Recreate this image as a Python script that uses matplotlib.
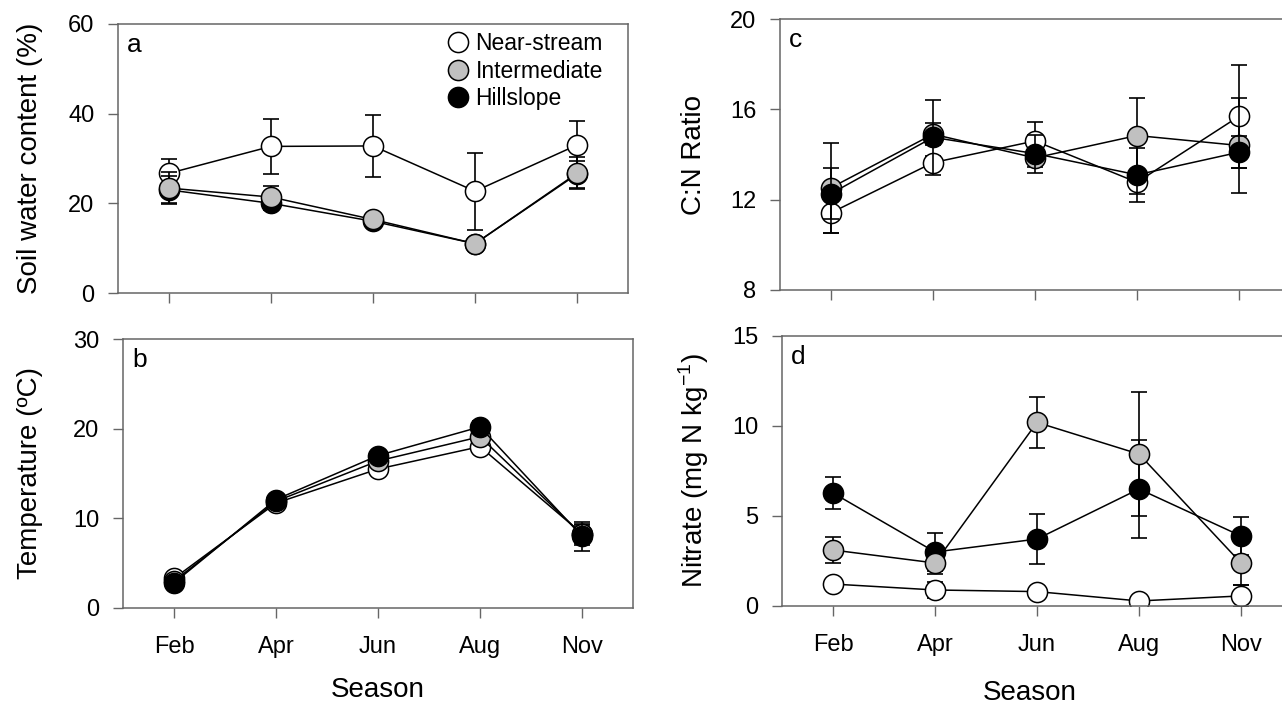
import matplotlib
matplotlib.use('Agg')
import matplotlib.pyplot as plt
from matplotlib.lines import Line2D

plt.rcParams['font.family'] = ['Liberation Sans', 'DejaVu Sans']
plt.rcParams['mathtext.fontset'] = 'custom'
plt.rcParams['mathtext.rm'] = 'Liberation Sans'

seasons = ['Feb', 'Apr', 'Jun', 'Aug', 'Nov']
sites = ['Near-stream', 'Intermediate', 'Hillslope']
site_fill = ['white', '#c0c0c0', 'black']

# (a) soil water content (%)
water_near = [26.7, 32.7, 32.8, 22.7, 33.0]
water_near_err = [3.1, 6.1, 7.0, 8.6, 5.3]
water_inter = [23.4, 21.4, 16.4, 11.0, 26.7]
water_inter_err = [3.5, 2.4, 1.0, 0.8, 3.6]
water_hill = [23.0, 20.0, 16.0, 11.0, 26.5]
water_hill_err = [3.0, 1.5, 1.0, 0.8, 3.0]

# (b) temperature (ºC)
temp_near = [3.3, 11.7, 15.5, 18.0, 8.3]
temp_near_err = [0.4, 0.5, 0.5, 0.6, 1.0]
temp_inter = [3.0, 11.9, 16.4, 19.1, 8.2]
temp_inter_err = [0.4, 0.5, 0.5, 0.6, 1.2]
temp_hill = [2.8, 12.1, 17.0, 20.2, 8.0]
temp_hill_err = [0.4, 0.5, 0.5, 0.6, 1.6]

# (c) C:N ratio
cn_near = [11.42, 13.64, 14.6, 12.77, 15.69]
cn_near_err = [0.9, 0.3, 0.86, 0.5, 2.27]
cn_inter = [12.53, 14.9, 13.85, 14.84, 14.4]
cn_inter_err = [2.0, 0.5, 0.4, 1.66, 2.1]
cn_hill = [12.27, 14.76, 14.04, 13.1, 14.1]
cn_hill_err = [1.13, 1.65, 0.84, 1.2, 0.7]

# (d) nitrate (mg N kg-1)
no3_near = [1.22, 0.89, 0.8, 0.28, 0.56]
no3_near_err = [0.2, 0.45, 0.2, 0.1, 0.6]
no3_inter = [3.11, 2.39, 10.2, 8.44, 2.39]
no3_inter_err = [0.72, 0.6, 1.4, 3.45, 1.22]
no3_hill = [6.28, 3.0, 3.72, 6.5, 3.89]
no3_hill_err = [0.9, 1.06, 1.4, 2.7, 1.05]

W, H = 1282, 710
SPINE = '#666666'


def px_axes(fig, left, top, right, bottom):
    return fig.add_axes([left / W, 1 - bottom / H, (right - left) / W, (bottom - top) / H])


def draw_panel(ax, series, order, yticks, letter, xlabels=True):
    x = list(range(len(seasons)))
    for k, i in enumerate(order):
        y, e = series[i]
        z = 2 + k
        ax.errorbar(x, y, yerr=e, fmt='none', ecolor='black', elinewidth=1.2,
                    capsize=6, capthick=1.2, zorder=z)
        ax.plot(x, y, '-o', color='black', lw=1.1, ms=14.5, mfc=site_fill[i],
                mec='black', mew=1.1, zorder=z + 0.5)
    ax.set_xlim(-0.5, 4.5)
    ax.set_ylim(yticks[0], yticks[-1])
    ax.set_yticks(yticks)
    ax.set_xticks(x)
    if xlabels:
        ax.set_xticklabels(seasons)
    else:
        ax.set_xticklabels([])
    ax.tick_params(direction='out', length=7, width=1, color=SPINE, labelsize=17)
    ax.tick_params(axis='x', pad=13)
    ax.tick_params(axis='y', pad=10)
    for s in ax.spines.values():
        s.set_color(SPINE)
        s.set_linewidth(1.1)
    ax.text(0.018, 0.965, letter, transform=ax.transAxes, fontsize=19,
            ha='left', va='top')


fig = plt.figure(figsize=(W / 100, H / 100), dpi=100)

ax_a = px_axes(fig, 118, 24, 628, 293)
draw_panel(ax_a, [(water_near, water_near_err), (water_inter, water_inter_err),
                  (water_hill, water_hill_err)], [0, 2, 1], [0, 20, 40, 60], 'a',
           xlabels=False)

ax_b = px_axes(fig, 123, 339, 633, 608)
draw_panel(ax_b, [(temp_near, temp_near_err), (temp_inter, temp_inter_err),
                  (temp_hill, temp_hill_err)], [0, 1, 2], [0, 10, 20, 30], 'b')

ax_c = px_axes(fig, 780, 19, 1290, 290)
draw_panel(ax_c, [(cn_near, cn_near_err), (cn_inter, cn_inter_err),
                  (cn_hill, cn_hill_err)], [0, 1, 2], [8, 12, 16, 20], 'c',
           xlabels=False)

ax_d = px_axes(fig, 782, 336, 1292, 606)
draw_panel(ax_d, [(no3_near, no3_near_err), (no3_inter, no3_inter_err),
                  (no3_hill, no3_hill_err)], [0, 2, 1], [0, 5, 10, 15], 'd')

# legend in panel a
handles = [Line2D([], [], ls='none', marker='o', ms=14.5, mfc=c, mec='black', mew=1.1)
           for c in site_fill]
ax_a.legend(handles, sites, loc='upper left', bbox_to_anchor=(0.647, 0.97),
            frameon=False, fontsize=16.5, handlelength=0.9, handletextpad=0.3,
            borderpad=0, borderaxespad=0, labelspacing=0.2)

# axis titles
fig.text(30 / W, 1 - 158 / H, 'Soil water content (%)', rotation=90,
         ha='center', va='center', fontsize=20)
fig.text(30 / W, 1 - 473 / H, 'Temperature (ºC)', rotation=90,
         ha='center', va='center', fontsize=20)
fig.text(694 / W, 1 - 155 / H, 'C:N Ratio', rotation=90,
         ha='center', va='center', fontsize=20)
fig.text(694 / W, 1 - 471 / H, r'Nitrate (mg N kg$^{\mathregular{-1}}$)', rotation=90,
         ha='center', va='center', fontsize=20)
fig.text(378 / W, 1 - 690 / H, 'Season', ha='center', va='center', fontsize=20)
fig.text(1030 / W, 1 - 693 / H, 'Season', ha='center', va='center', fontsize=20)

fig.savefig('out.png', dpi=100)
